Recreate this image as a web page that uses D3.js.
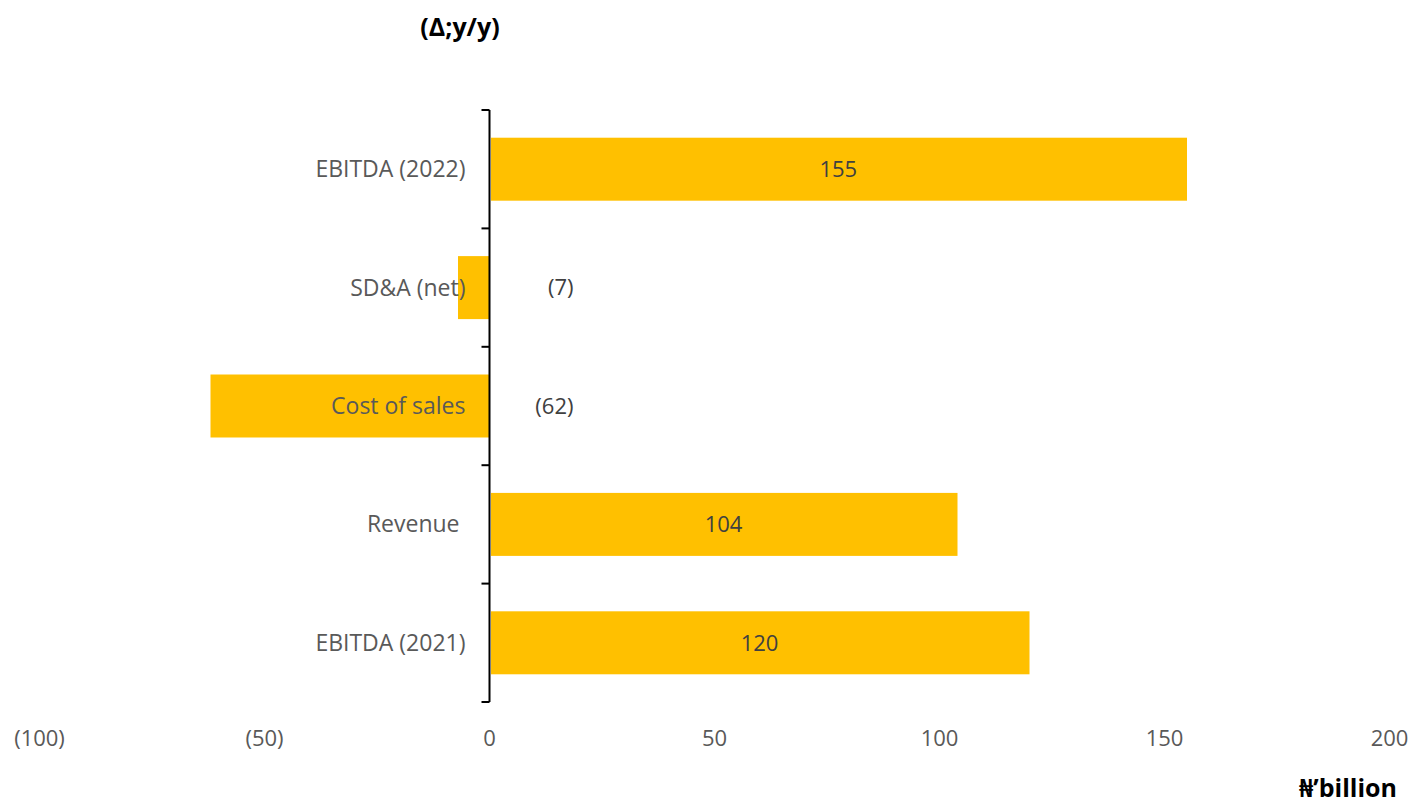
<!DOCTYPE html>
<html><head><meta charset="utf-8">
<script src="https://cdn.jsdelivr.net/npm/d3@7"></script>
<style>
body{margin:0;background:#fff;}
text{font-family:"Open Sans","Noto Sans",sans-serif;}
</style></head>
<body><svg id="c" width="1413" height="806"></svg>
<script>
const categories = ["EBITDA (2022)", "SD&A (net)", "Cost of sales", "Revenue ", "EBITDA (2021)"];
const values = [155, -7, -62, 104, 120];
const valueLabels = ["155", "(7)", "(62)", "104", "120"];
const xTicks = [-100, -50, 0, 50, 100, 150, 200];
const xTickLabels = ["(100)", "(50)", "0", "50", "100", "150", "200"];
const title = "(\u0394;y/y)";
const unitLabel = "\u20A6\u2019billion";

const svg = d3.select("#c");
const x = d3.scaleLinear().domain([-100, 200]).range([39.5, 1389.5]);
const y = d3.scaleBand().domain(categories).range([110, 702]).paddingInner(0.468).paddingOuter(0.234);
const barColor = "#FFC000";

// bars
svg.append("g").selectAll("rect").data(categories).join("rect")
  .attr("x", (d,i) => Math.min(x(0), x(values[i])) + (values[i] > 0 ? 1.5 : 0))
  .attr("y", d => y(d))
  .attr("width", (d,i) => Math.abs(x(values[i]) - x(0)) - (values[i] > 0 ? 1.5 : 0))
  .attr("height", y.bandwidth())
  .attr("fill", barColor);

// category labels
svg.append("g").selectAll("text").data(categories).join("text")
  .attr("x", x(0) - 24)
  .attr("y", d => y(d) + y.bandwidth()/2)
  .attr("dy", "0.35em")
  .attr("text-anchor", "end")
  .style("white-space", "pre")
  .attr("font-size", 23)
  .attr("fill", "#595959")
  .text(d => d);

// value labels
svg.append("g").selectAll("text").data(categories).join("text")
  .attr("x", (d,i) => values[i] > 0 ? (x(0) + x(values[i]))/2 : x(0) + 84)
  .attr("y", d => y(d) + y.bandwidth()/2)
  .attr("dy", "0.35em")
  .attr("text-anchor", (d,i) => values[i] > 0 ? "middle" : "end")
  .attr("font-size", 22)
  .attr("fill", "#404040")
  .text((d,i) => valueLabels[i]);

// y axis line and ticks
const [y0, y1] = y.range();
const ax = svg.append("g").attr("stroke", "#000").attr("stroke-width", 2);
ax.append("line").attr("x1", x(0)).attr("x2", x(0)).attr("y1", y0).attr("y2", y1);
const bounds = d3.range(categories.length + 1).map(i => y0 + i * y.step());
ax.selectAll("line.t").data(bounds).join("line").attr("class","t")
  .attr("x1", x(0) - 8).attr("x2", x(0)).attr("y1", d => d).attr("y2", d => d);

// x tick labels
svg.append("g").selectAll("text").data(xTicks).join("text")
  .attr("x", d => x(d))
  .attr("y", 738)
  .attr("dy", "0.35em")
  .attr("text-anchor", "middle")
  .attr("font-size", 22)
  .attr("fill", "#595959")
  .text((d,i) => xTickLabels[i]);

// title
svg.append("text").attr("x", 460).attr("y", 36).attr("text-anchor", "middle")
  .attr("font-size", 25).attr("font-weight", "bold").attr("fill", "#000").text(title);
svg.append("text").attr("x", 1397).attr("y", 797).attr("text-anchor", "end")
  .attr("font-size", 25).attr("font-weight", "bold").attr("fill", "#000").text(unitLabel);
</script></body></html>
